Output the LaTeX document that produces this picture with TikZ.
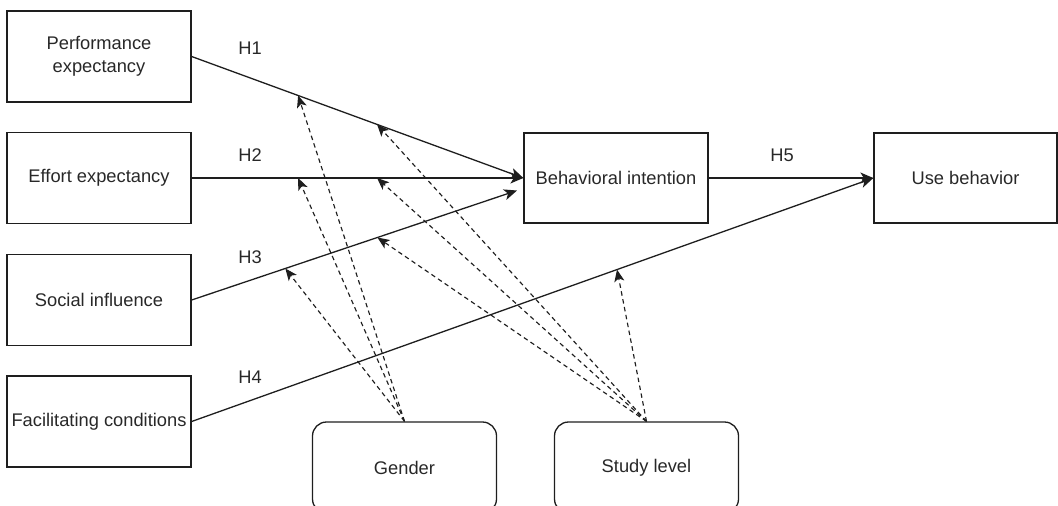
\documentclass[tikz,border=0pt]{standalone}
\usepackage{fontspec}
\setmainfont{Liberation Sans}
\usetikzlibrary{arrows.meta}
\definecolor{ink}{RGB}{30,30,30}
\definecolor{txt}{RGB}{40,40,40}
\tikzset{
  box/.style={draw=ink, line width=1.3pt, rectangle, minimum width=184pt, minimum height=91pt,
    inner sep=2pt, align=center, text=txt, font=\fontsize{18.3}{23}\selectfont},
  rbox/.style={box, rounded corners=14pt},
  hyp/.style={draw=ink, line width=1.3pt, -{Stealth[length=13pt,width=11pt,inset=3.5pt]}},
  mod/.style={draw=ink, line width=1.15pt, dash pattern=on 4.5pt off 3.5pt, -{Stealth[length=12pt,width=10pt,inset=3pt]}},
  lab/.style={text=txt, font=\fontsize{18.3}{22}\selectfont, inner sep=0pt}
}
\begin{document}
\begin{tikzpicture}[x=1pt,y=-1pt]
\useasboundingbox (0,0) rectangle (1058,506);
\node[box] (PE) at (99,56.5) {Performance\\expectancy};
\node[box] (EE) at (99,178) {Effort expectancy};
\node[box] (SI) at (99,300) {Social influence};
\node[box] (FC) at (99,421.5) {Facilitating conditions};
\node[box, minimum height=90pt] (BI) at (616,178) {Behavioral intention};
\node[box, minimum width=183pt, minimum height=90pt] (UB) at (965.5,178) {Use behavior};
\node[rbox] (G) at (404.5,467.5) {Gender};
\node[rbox] (S) at (646.5,467.5) {Study level};
\coordinate (h3end) at (517,190.5);

\draw[hyp] (PE.east) -- (BI.west);
\draw[hyp] (EE.east) -- (BI.west);
\draw[hyp] (SI.east) -- (h3end);
\draw[hyp] (FC.east) -- (UB.west);
\draw[hyp] (BI.east) -- (UB.west);

\path (PE.east) -- (BI.west) coordinate[pos=0.321] (h1a) coordinate[pos=0.559] (h1b);
\path (EE.east) -- (BI.west) coordinate[pos=0.321] (h2a) coordinate[pos=0.559] (h2b);
\path (SI.east) -- (h3end) coordinate[pos=0.288] (h3a) coordinate[pos=0.571] (h3b);
\path (FC.east) -- (UB.west) coordinate[pos=0.624] (h4a);

\node[lab] (L1) at (250,48) {H1};
\node[lab] (L2) at (250,155) {H2};
\node[lab] (L3) at (250,257) {H3};
\node[lab] (L4) at (250,377) {H4};
\node[lab] (L5) at (782,155) {H5};

\draw[mod] (G.north) -- (h1a);
\draw[mod] (G.north) -- (h2a);
\draw[mod] (G.north) -- (h3a);
\draw[mod] (S.north) -- (h1b);
\draw[mod] (S.north) -- (h2b);
\draw[mod] (S.north) -- (h3b);
\draw[mod] (S.north) -- (h4a);
\end{tikzpicture}
\end{document}
